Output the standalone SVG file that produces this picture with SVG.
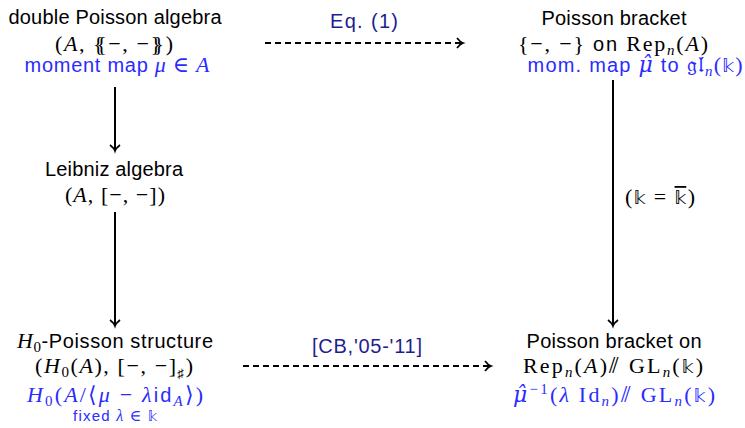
<svg xmlns="http://www.w3.org/2000/svg" width="745" height="428" viewBox="0 0 745 428">
<style>
.s{font-family:"Liberation Sans","DejaVu Sans",sans-serif;font-size:20px;fill:#000}
.m{font-family:"Liberation Serif","DejaVu Serif",serif;font-size:22px;fill:#000}
.i{font-style:italic}
.b{fill:#2b2bff}
.lab{font-family:"Liberation Sans","DejaVu Sans",sans-serif;font-size:20px;fill:#1e1e8e}
.bb{font-family:"DejaVu Sans",sans-serif;font-style:normal;font-size:18px}
.sub{font-size:15px}
.hat{font-family:"DejaVu Serif",serif}
.solid{stroke:#000;stroke-width:2;fill:none}
.dash{stroke:#000;stroke-width:2;fill:none;stroke-dasharray:6 4}
</style>
<defs>
<marker id="ah" viewBox="0 0 12 12" refX="10" refY="6" markerWidth="12" markerHeight="12" markerUnits="userSpaceOnUse" orient="auto" overflow="visible">
<path d="M4,1 Q7,5 10,6 Q7,7 4,11" fill="none" stroke="#000" stroke-width="1.7"/>
</marker>
</defs>
<rect width="745" height="428" fill="#fff"/>
<g id="connectors">
<path class="solid" d="M115,87 V151" marker-end="url(#ah)"/>
<path class="solid" d="M115,212 V326" marker-end="url(#ah)"/>
<path class="solid" d="M613,80 V326" marker-end="url(#ah)"/>
<path class="dash" d="M265,43 H463" marker-end="url(#ah)"/>
<text class="lab" x="364" y="28" text-anchor="middle" textLength="68">Eq. (1)</text>
<path class="dash" d="M243,366 H491" marker-end="url(#ah)"/>
<text class="lab" x="367" y="353" text-anchor="middle" textLength="110">[CB,'05-'11]</text>
<text class="m" x="660" y="204" text-anchor="middle" textLength="70">(<tspan class="bb">𝕜</tspan> = <tspan class="bb" text-decoration="overline">𝕜</tspan>)</text>
</g>
<g id="n-double">
<text class="s" x="115" y="24" text-anchor="middle" textLength="213">double Poisson algebra</text>
<text class="m" x="114" y="51" text-anchor="middle" textLength="118">(<tspan class="i">A</tspan>, {<tspan dx="-9">{</tspan>−, −}<tspan dx="-9">})</tspan></text>
<text class="s b" x="117" y="72" text-anchor="middle" textLength="185">moment map <tspan class="m b i">μ</tspan><tspan class="m b"> ∈ </tspan><tspan class="m b i">A</tspan></text>
</g>
<g id="n-leibniz">
<text class="s" x="114" y="176" text-anchor="middle" textLength="138">Leibniz algebra</text>
<text class="m" x="115" y="202" text-anchor="middle" textLength="100">(<tspan class="i">A</tspan>, [−, −])</text>
</g>
<g id="n-h0">
<text class="s" x="115" y="348" text-anchor="middle" textLength="196"><tspan class="m i">H</tspan><tspan class="m sub" dy="4">0</tspan><tspan dy="-4">-Poisson structure</tspan></text>
<text class="m" x="114" y="373" text-anchor="middle" textLength="158">(<tspan class="i">H</tspan><tspan class="sub" dy="4">0</tspan><tspan dy="-4">(</tspan><tspan class="i">A</tspan>), [−, −]<tspan style="font-size:13px" dy="5">♯</tspan><tspan dy="-5">)</tspan></text>
<text class="m b" x="115" y="402" text-anchor="middle" textLength="176"><tspan class="i">H</tspan><tspan class="sub" dy="4">0</tspan><tspan dy="-4">(</tspan><tspan class="i">A</tspan>/⟨<tspan class="i">μ</tspan> − <tspan class="i">λ</tspan><tspan style="font-family:'Liberation Sans',sans-serif;font-size:20px">id</tspan><tspan class="i sub" dy="4">A</tspan><tspan dy="-4">⟩)</tspan></text>
<text class="s b" x="115" y="421" text-anchor="middle" textLength="84" style="font-size:15px">fixed <tspan class="m b i" style="font-size:16px">λ</tspan><tspan class="m b" style="font-size:16px"> ∈ </tspan><tspan class="bb b" style="font-size:14px">𝕜</tspan></text>
</g>
<g id="n-rep">
<text class="s" x="614" y="25" text-anchor="middle" textLength="145">Poisson bracket</text>
<text class="m" x="613" y="51" text-anchor="middle" textLength="190">{−, −} <tspan class="s">on</tspan> Rep<tspan class="i sub" dy="4">n</tspan><tspan dy="-4">(</tspan><tspan class="i">A</tspan>)</text>
<text class="s b" x="635" y="72" text-anchor="middle" textLength="215">mom. map <tspan class="m b i hat">μ̂</tspan> to <tspan class="m b">𝔤𝔩</tspan><tspan class="m b i sub" dy="4">n</tspan><tspan class="m b" dy="-4">(</tspan><tspan class="bb b">𝕜</tspan><tspan class="m b">)</tspan></text>
</g>
<g id="n-quot">
<text class="s" x="614" y="348" text-anchor="middle" textLength="175">Poisson bracket on</text>
<text class="m" x="613" y="373" text-anchor="middle" textLength="180">Rep<tspan class="i sub" dy="4">n</tspan><tspan dy="-4">(</tspan><tspan class="i">A</tspan>)⫽ GL<tspan class="i sub" dy="4">n</tspan><tspan dy="-4">(</tspan><tspan class="bb">𝕜</tspan>)</text>
<text class="m b" x="614" y="402" text-anchor="middle" textLength="202"><tspan class="i hat">μ̂</tspan><tspan class="sub" dy="-8">−1</tspan><tspan dy="8">(</tspan><tspan class="i">λ</tspan> Id<tspan class="i sub" dy="4">n</tspan><tspan dy="-4">)⫽ GL</tspan><tspan class="i sub" dy="4">n</tspan><tspan dy="-4">(</tspan><tspan class="bb b">𝕜</tspan>)</text>
</g>
</svg>
